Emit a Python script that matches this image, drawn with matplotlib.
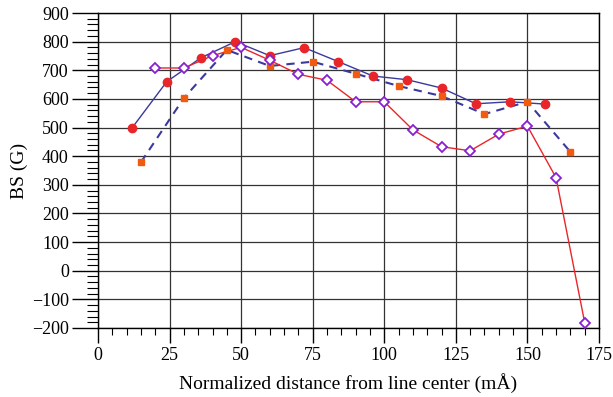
import matplotlib
matplotlib.use("Agg")
import matplotlib.pyplot as plt
from matplotlib.ticker import MultipleLocator

plt.rcParams['font.family'] = ['Liberation Serif', 'DejaVu Serif']

# Series A: red circles, solid navy line
xa = [12, 24, 36, 48, 60, 72, 84, 96, 108, 120, 132, 144, 156]
ya = [500, 660, 744, 800, 751, 779, 730, 680, 667, 638, 583, 590, 582]

# Series B: orange squares, dashed navy line
xb = [15, 30, 45, 60, 75, 90, 105, 120, 135, 150, 165]
yb = [379, 603, 771, 715, 730, 688, 645, 610, 547, 590, 415]

# Series C: purple open diamonds, red line
xc = [20, 30, 40, 50, 60, 70, 80, 90, 100, 110, 120, 130, 140, 150, 160, 170]
yc = [708, 708, 751, 780, 735, 686, 665, 590, 590, 492, 433, 419, 477, 505, 325, -181]

xticks = [0, 25, 50, 75, 100, 125, 150, 175]
yticks = [-200, -100, 0, 100, 200, 300, 400, 500, 600, 700, 800, 900]

fig = plt.figure(figsize=(6.13, 3.97), dpi=100)
ax = fig.add_axes([98/613, 1 - 328/397, (599-98)/613, (328-13)/397])

navy = '#3a3a9e'
red = '#e8262a'
orange = '#f25a0f'
purple = '#8a1fd0'

ax.plot(xa, ya, '-', color=navy, lw=1.0, zorder=3)
ax.plot(xa, ya, 'o', color=red, ms=6, mec=red, zorder=5, linestyle='none')
ax.plot(xb, yb, '--', color=navy, lw=1.5, dashes=(4, 3), zorder=3)
ax.plot(xb, yb, 's', color=orange, ms=5, mec=orange, zorder=5, linestyle='none')
ax.plot(xc, yc, '-', color=red, lw=1.0, zorder=4)
ax.plot(xc, yc, 'D', mfc='white', mec=purple, mew=1.3, ms=5, zorder=6, linestyle='none')

ax.set_xlim(0, 175)
ax.set_ylim(-200, 900)
ax.set_xticks(xticks)
ax.set_yticks(yticks)
ax.xaxis.set_minor_locator(MultipleLocator(5))
ax.yaxis.set_minor_locator(MultipleLocator(20))
ax.tick_params(axis='x', which='major', length=11, width=1.0, direction='out', labelsize=13, pad=3)
ax.tick_params(axis='x', which='minor', length=5, width=0.8, direction='out')
ax.tick_params(axis='y', which='major', length=19, width=1.0, direction='out', labelsize=13, pad=2)
ax.tick_params(axis='y', which='minor', length=8, width=0.8, direction='out')
ax.set_yticklabels([('\u2212' + str(abs(v))) if v < 0 else str(v) for v in yticks])

ax.grid(True, which='major', color='#333333', lw=0.9, ls='-', zorder=1)
for s in ax.spines.values():
    s.set_linewidth(1.0)
    s.set_color('black')

ax.set_xlabel('Normalized distance from line center (mÅ)', fontsize=14, labelpad=6)
ax.set_ylabel('BS (G)', fontsize=14, labelpad=3)

fig.savefig('out.png', dpi=100)
